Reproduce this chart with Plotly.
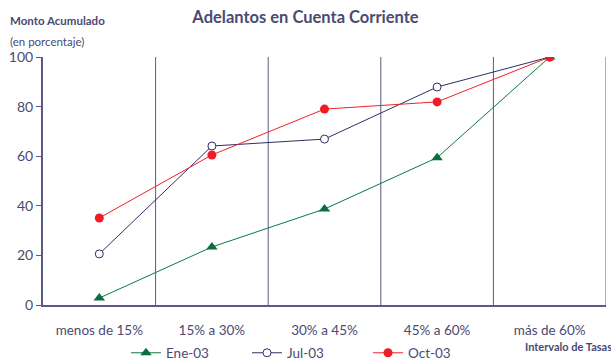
import plotly.graph_objects as go

categories = ["menos de 15%", "15% a 30%", "30% a 45%", "45% a 60%", "más de 60%"]
ene_03 = [2.8, 23.4, 38.7, 59.4, 100]
jul_03 = [20.6, 64.1, 66.9, 87.9, 100]
oct_03 = [35.1, 60.5, 79.0, 81.9, 100]
y_ticks = [0, 20, 40, 60, 80, 100]

TXT = "#4a4a72"
AX = "#5a5a85"
FONT = "Lato"

x_idx = list(range(len(categories)))

fig = go.Figure()
fig.add_trace(go.Scatter(
    x=x_idx, y=ene_03, name="Ene-03", mode="lines+markers",
    line=dict(color="#0a7a45", width=1),
    marker=dict(symbol="triangle-up", size=10, color="#0a6e40"),
))
fig.add_trace(go.Scatter(
    x=x_idx, y=jul_03, name="Jul-03", mode="lines+markers",
    line=dict(color="#2e2e66", width=1),
    marker=dict(symbol="circle", size=8, color="white",
                line=dict(color="#2e2e66", width=1)),
))
fig.add_trace(go.Scatter(
    x=x_idx, y=oct_03, name="Oct-03", mode="lines+markers",
    line=dict(color="#f0202a", width=1),
    marker=dict(symbol="circle", size=9, color="#ee1c25"),
))

fig.update_layout(
    width=611, height=362,
    margin=dict(l=43, r=5, t=57, b=57, autoexpand=False),
    paper_bgcolor="white", plot_bgcolor="white",
    font=dict(family=FONT, color=TXT, size=13),
    title=dict(text="<b>Adelantos en Cuenta Corriente</b>", x=0.5, xanchor="center",
               xref="container", y=1 - 17/362, yanchor="middle",
               font=dict(size=16.5, color=TXT, family=FONT)),
    showlegend=True,
    legend=dict(orientation="h", xref="container", yref="container",
                x=126/611, xanchor="left", y=(362-353)/362, yanchor="middle",
                font=dict(size=13.5, color=TXT, family=FONT),
                itemwidth=30, entrywidth=76, bgcolor="rgba(0,0,0,0)"),
    xaxis=dict(
        range=[-0.5, 4.5], tickmode="array", tickvals=x_idx, ticktext=categories,
        showgrid=False, zeroline=False, showline=True, linecolor=AX, linewidth=2,
        ticks="", ticklabelstandoff=12, automargin=False,
        tickfont=dict(size=13.5, color=TXT, family=FONT),
        fixedrange=True,
    ),
    yaxis=dict(
        range=[0, 100], tickmode="array", tickvals=y_ticks,
        showgrid=False, zeroline=False, showline=True, linecolor=AX, linewidth=2,
        ticks="outside", ticklen=5, tickcolor=AX, tickwidth=1, automargin=False,
        tickfont=dict(size=14, color=TXT, family=FONT),
        fixedrange=True,
    ),
)

# vertical separators at category boundaries (in data coordinates)
for b in [0.5, 1.5, 2.5, 3.5, 4.5]:
    fig.add_shape(type="line", xref="x", yref="y", x0=b, x1=b, y0=0, y1=100,
                  line=dict(color=AX, width=1), layer="below")

fig.add_annotation(text="<b>Monto Acumulado</b>", xref="paper", yref="paper",
                   x=-35/563, y=1 + (57-20)/248, xanchor="left", yanchor="middle",
                   showarrow=False, font=dict(size=11.5, color=TXT, family=FONT))
fig.add_annotation(text="(en porcentaje)", xref="paper", yref="paper",
                   x=-35/563, y=1 + (57-42)/248, xanchor="left", yanchor="middle",
                   showarrow=False, font=dict(size=11.5, color=TXT, family=FONT))
fig.add_annotation(text="<b>Intervalo de Tasas</b>", xref="paper", yref="paper",
                   x=1 + 8/563, y=-(346-305)/248, xanchor="right", yanchor="middle",
                   showarrow=False, font=dict(size=11, color=TXT, family=FONT))

fig.write_html("out.html")
